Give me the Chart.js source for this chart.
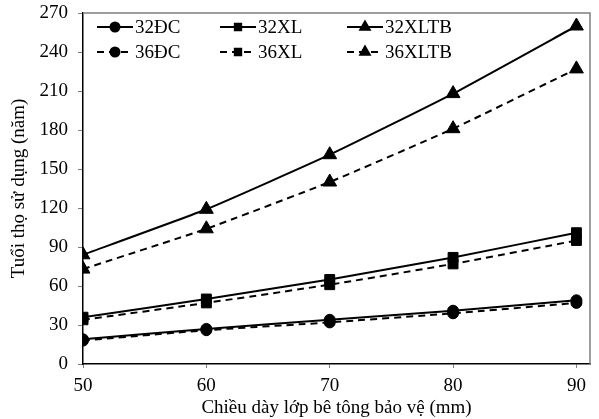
<!DOCTYPE html>
<html>
<head>
<meta charset="utf-8">
<script src="https://cdn.jsdelivr.net/npm/chart.js@4.4.0/dist/chart.umd.min.js"></script>
<style>
  html, body { margin: 0; padding: 0; background: #fff; }
  #wrap { width: 599px; height: 419px; }
</style>
</head>
<body>
<div id="wrap"><canvas id="lineChart"></canvas></div>
<script>
// thickness of concrete cover (mm)
const thickness = [50, 60, 70, 80, 90];
const yTicks = [0, 30, 60, 90, 120, 150, 180, 210, 240, 270];

const seriesNames = ['32ĐC', '32XL', '32XLTB', '36ĐC', '36XL', '36XLTB'];
const s32DC = [19, 27, 34, 41, 49];
const s32XL = [36, 50, 65, 82, 101];
const s32XLTB = [84, 119, 161, 208, 260];
const s36DC = [18, 26, 32, 39, 47];
const s36XL = [34, 47, 61, 77, 95];
const s36XLTB = [73, 104, 140, 181, 227];

const FONT = '"Liberation Serif", "Times New Roman", serif';
const FSIZE = 19;

const markers = ['circle', 'rect', 'triangle', 'circle', 'rect', 'triangle'];
const markerRadius = { circle: 5.5, rect: 7, triangle: 8 };

function makeSet(label, values, marker, dashed) {
    return {
        label: label,
        data: thickness.map((x, i) => ({ x: x, y: values[i] })),
        borderColor: '#000',
        backgroundColor: '#000',
        borderWidth: 2,
        borderDash: dashed ? [7, 5] : [],
        pointStyle: marker,
        pointRadius: markerRadius[marker],
        pointBorderWidth: 1,
        tension: 0.15,
        fill: false
    };
}

const allValues = [s32DC, s32XL, s32XLTB, s36DC, s36XL, s36XLTB];
const datasets = allValues.map((v, i) => makeSet(seriesNames[i], v, markers[i], i >= 3));

// box around the plot and the legend drawn inside it
const boxAndLegend = {
    id: 'boxAndLegend',
    afterDraw(chart) {
        const ctx = chart.ctx;
        const a = chart.chartArea;
        ctx.save();
        ctx.strokeStyle = '#7f7f7f';
        ctx.lineWidth = 1.5;
        ctx.beginPath();
        ctx.moveTo(a.left, a.top);
        ctx.lineTo(a.right, a.top);
        ctx.lineTo(a.right, a.bottom);
        ctx.stroke();

        const colX = [a.left + 14, a.left + 137, a.left + 264];
        const rowY = [a.top + 14, a.top + 39];
        ctx.font = FSIZE + 'px ' + FONT;
        ctx.textBaseline = 'middle';
        ctx.fillStyle = '#000';
        chart.data.datasets.forEach((ds, i) => {
            const x = colX[i % 3];
            const y = rowY[Math.floor(i / 3)];
            ctx.strokeStyle = '#000';
            ctx.lineWidth = 2;
            ctx.setLineDash(ds.borderDash);
            ctx.beginPath();
            ctx.moveTo(x, y);
            ctx.lineTo(x + 36, y);
            ctx.stroke();
            ctx.setLineDash([]);
            Chart.helpers.drawPoint(ctx, {
                pointStyle: ds.pointStyle,
                radius: ds.pointStyle === 'triangle' ? 5.5 : 4.5,
                borderWidth: 1
            }, x + 18, y);
            ctx.fillText(ds.label, x + 38, y + 1);
        });
        ctx.restore();
    }
};

const ctx = document.getElementById('lineChart').getContext('2d');
new Chart(ctx, {
    type: 'line',
    data: { datasets: datasets },
    plugins: [boxAndLegend],
    options: {
        responsive: true,
        maintainAspectRatio: false,
        animation: false,
        layout: { padding: { left: 0, right: 7, top: 13, bottom: 0 } },
        plugins: {
            legend: { display: false },
            tooltip: { enabled: false }
        },
        scales: {
            x: {
                type: 'linear',
                min: 50,
                max: 91.1,
                afterBuildTicks: scale => {
                    scale.ticks = thickness.map(v => ({ value: v }));
                },
                afterFit: scale => {
                    scale.height = 55;
                    scale.paddingLeft = 0;
                    scale.paddingRight = 0;
                },
                grid: { display: true, drawOnChartArea: false, drawTicks: true, tickLength: 4, color: '#7f7f7f' },
                border: { display: true, color: '#000', width: 1.5 },
                ticks: { color: '#000', font: { family: FONT, size: FSIZE }, padding: 7, maxRotation: 0 },
                title: { display: true, text: 'Chiều dày lớp bê tông bảo vệ (mm)', color: '#000', font: { family: FONT, size: FSIZE }, padding: { top: 0, bottom: 0 } }
            },
            y: {
                min: 0,
                max: 270,
                afterBuildTicks: scale => {
                    scale.ticks = yTicks.map(v => ({ value: v }));
                },
                afterFit: scale => {
                    scale.width = 83;
                    scale.paddingTop = 0;
                    scale.paddingBottom = 0;
                },
                grid: { display: true, drawOnChartArea: false, drawTicks: true, tickLength: 5, color: '#7f7f7f' },
                border: { display: true, color: '#000', width: 1.5 },
                ticks: { color: '#000', font: { family: FONT, size: FSIZE }, padding: 10 },
                title: { display: true, text: 'Tuổi thọ sử dụng (năm)', color: '#000', font: { family: FONT, size: FSIZE }, padding: { top: 8, bottom: 0 } }
            }
        }
    }
});
</script>
</body>
</html>
